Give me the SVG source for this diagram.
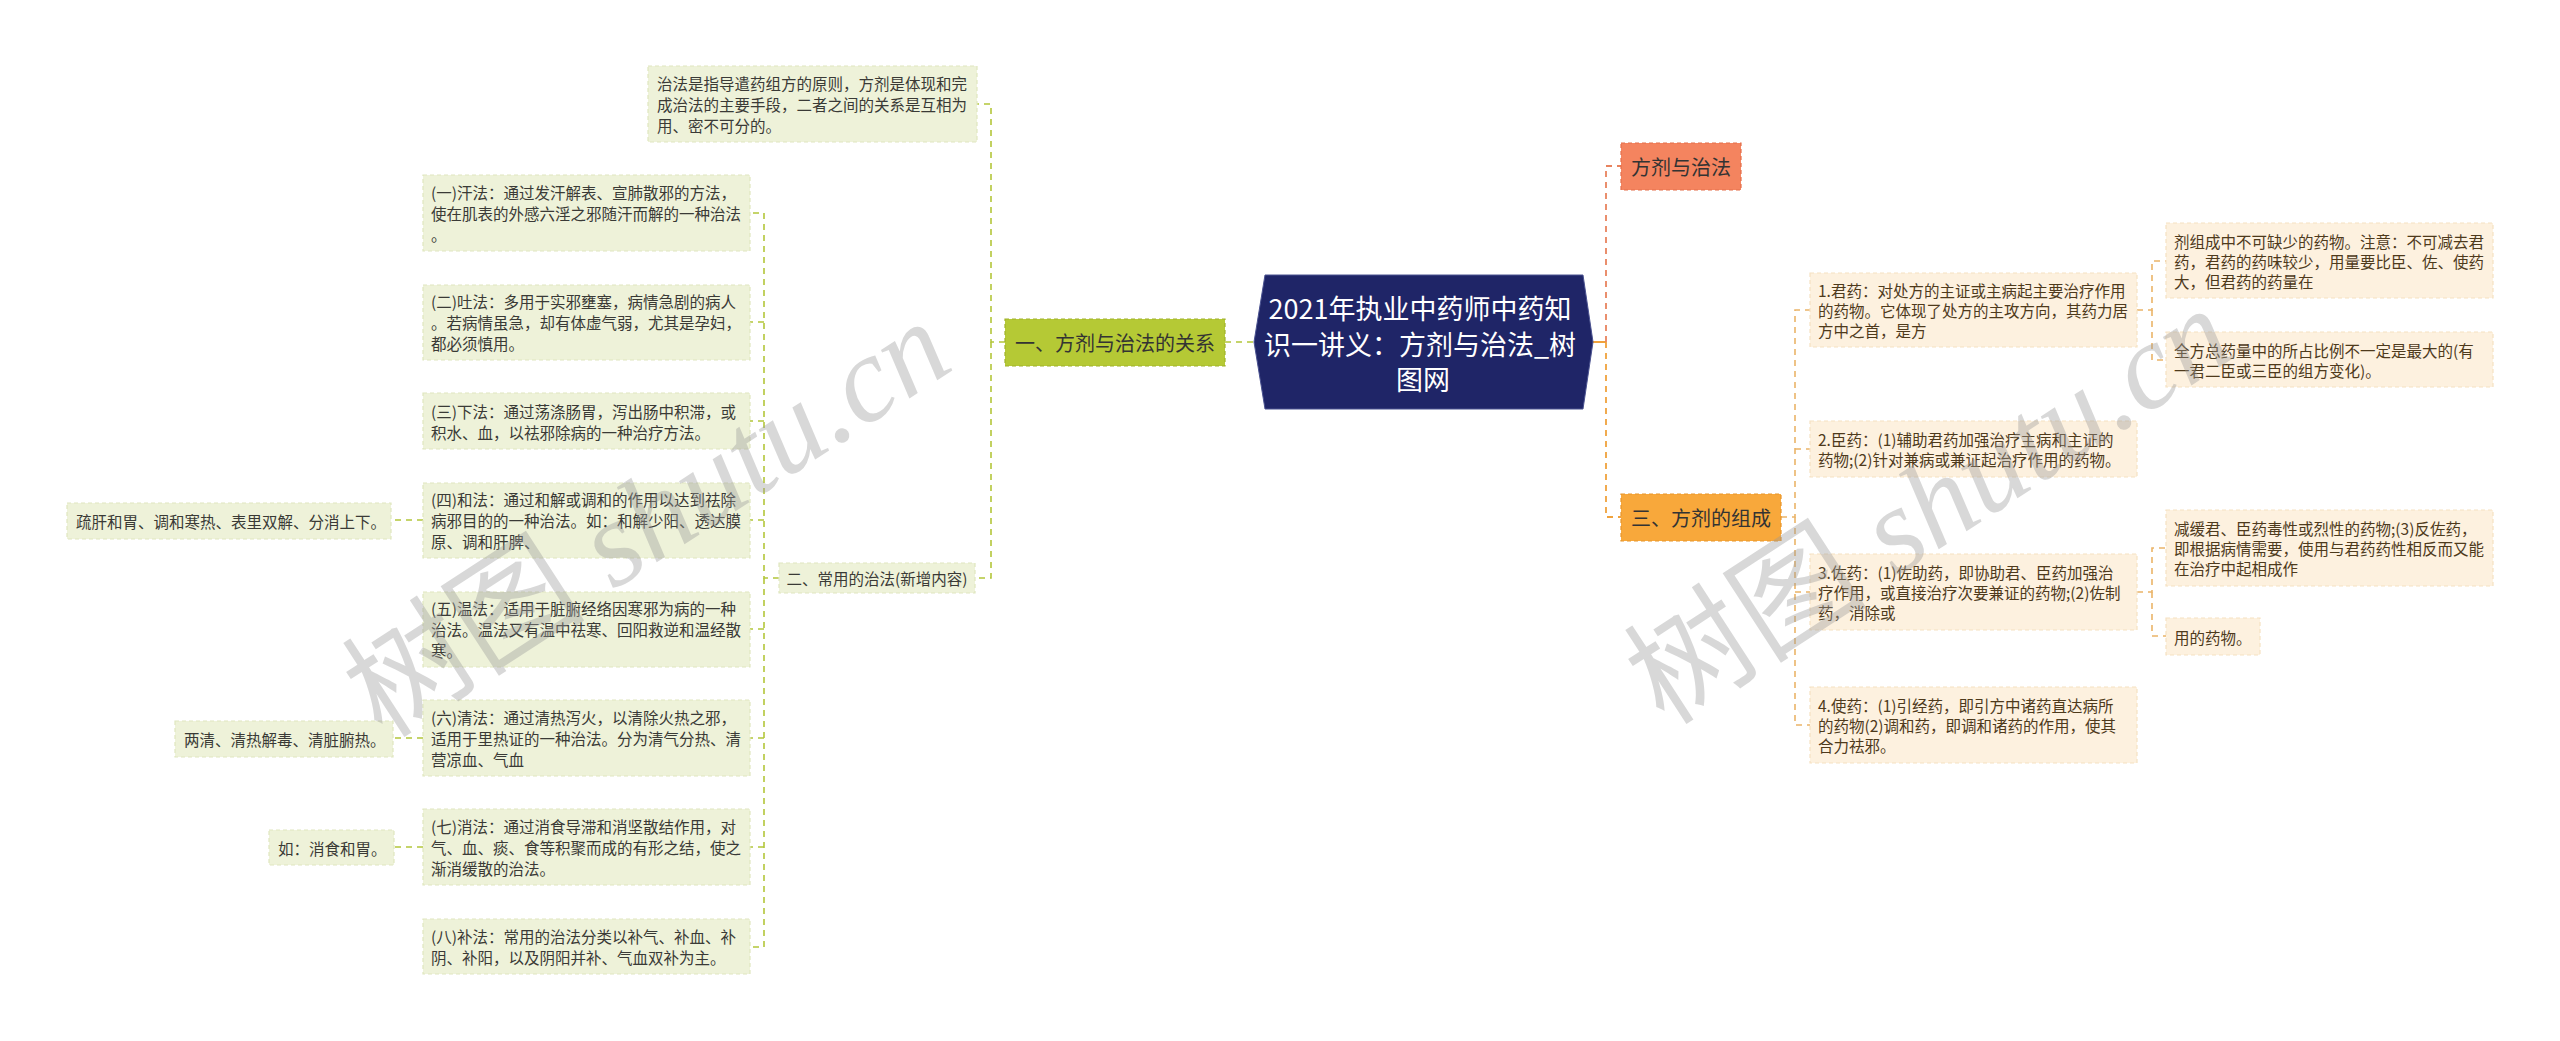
<svg xmlns="http://www.w3.org/2000/svg" width="2560" height="1041" viewBox="0 0 2560 1041">
<style>
text, tspan { dominant-baseline: central; }
.t { font-family: "Noto Sans CJK SC", "Liberation Sans", sans-serif; font-size: 15.5px; }
.lt { fill: #3a3a36; }
.rt { fill: #4e3a1c; }
.gl { fill: #eef2d9; stroke: #dfe6bf; stroke-width: 1.2; stroke-dasharray: 4 3; }
.rl { fill: #fdf1df; stroke: #f5e2c2; stroke-width: 1.2; stroke-dasharray: 4 3; }
.big { font-family: "Noto Sans CJK SC", "Liberation Sans", sans-serif; font-size: 20px; fill: #333; }
.cg { fill: none; stroke: #b3c63a; stroke-width: 1.6; stroke-dasharray: 6 5; }
.co { fill: none; stroke: #eab468; stroke-width: 1.6; stroke-dasharray: 6 5; }
.wm { font-family: "Liberation Serif", "Noto Sans CJK SC", serif; font-size: 122px; fill: #9a9a9a; opacity: 0.38; }
</style>

<g id="connectors">
  <path class="cg" d="M1225,342 H1254" stroke-width="2.5"/>
  <path class="cg" d="M1005,342 H991 V104 H977"/>
  <path class="cg" d="M991,342 V578 H975"/>
  <path class="cg" d="M779,578 H764 V213 H750"/>
  <path class="cg" d="M764,578 V947 H750"/>
  <path class="cg" d="M764,322 H750"/>
  <path class="cg" d="M764,421 H750"/>
  <path class="cg" d="M764,520 H750"/>
  <path class="cg" d="M764,629 H750"/>
  <path class="cg" d="M764,738 H750"/>
  <path class="cg" d="M764,847 H750"/>
  <path class="cg" d="M423,520 H391"/>
  <path class="cg" d="M423,738 H393"/>
  <path class="cg" d="M423,847 H394"/>
  <path d="M1593,342 H1606" fill="none" stroke="#f0a23c" stroke-width="2"/>
  <path d="M1606,342 V166 H1621" fill="none" stroke="#e8835e" stroke-width="1.8" stroke-dasharray="6 5"/>
  <path d="M1606,342 V517 H1621" fill="none" stroke="#f0a23c" stroke-width="1.8" stroke-dasharray="6 5"/>
  <path class="co" d="M1781,517 H1795 V310 H1810"/>
  <path class="co" d="M1795,517 V725 H1810"/>
  <path class="co" d="M1795,449 H1810"/>
  <path class="co" d="M1795,592 H1810"/>
  <path class="co" d="M2137,310 H2152 V261 H2166"/>
  <path class="co" d="M2152,310 V360 H2166"/>
  <path class="co" d="M2137,592 H2152 V548 H2166"/>
  <path class="co" d="M2152,592 V636 H2166"/>
</g>

<g id="root">
  <polygon points="1265,275 1583,275 1593,342 1583,409 1265,409 1254,342" fill="#1f2567" stroke="#4a5290" stroke-width="1"/>
  <text font-family="Noto Sans CJK SC, Liberation Sans, sans-serif" font-size="27" fill="#ffffff" text-anchor="middle">
    <tspan x="1423" y="307">2021年执业中药师中药知</tspan>
    <tspan x="1423" y="343">识一讲义：方剂与治法_树</tspan>
    <tspan x="1423" y="378">图网</tspan>
  </text>
</g>

<g id="n-guanxi">
  <rect x="1005" y="319" width="220" height="47" fill="#b5c935" stroke="#9fb22a" stroke-width="1.2" stroke-dasharray="4 3"/>
  <text class="big" x="1115" y="342" text-anchor="middle">一、方剂与治法的关系</text>
</g>

<g id="n-yuanze">
  <rect class="gl" x="648" y="66" width="329" height="76"/>
  <text class="t lt"><tspan x="657" y="83">治法是指导遣药组方的原则，方剂是体现和完</tspan><tspan x="657" y="104">成治法的主要手段，二者之间的关系是互相为</tspan><tspan x="657" y="125">用、密不可分的。</tspan></text>
</g>

<g id="n-zhifa">
  <rect class="gl" x="779" y="563" width="196" height="30"/>
  <text class="t lt" x="877" y="578" text-anchor="middle">二、常用的治法(新增内容)</text>
</g>

<g id="n-han">
  <rect class="gl" x="423" y="175" width="327" height="76"/>
  <text class="t lt"><tspan x="431" y="192">(一)汗法：通过发汗解表、宣肺散邪的方法，</tspan><tspan x="431" y="213">使在肌表的外感六淫之邪随汗而解的一种治法</tspan><tspan x="431" y="234">。</tspan></text>
</g>

<g id="n-tu">
  <rect class="gl" x="423" y="285" width="327" height="75"/>
  <text class="t lt"><tspan x="431" y="301">(二)吐法：多用于实邪壅塞，病情急剧的病人</tspan><tspan x="431" y="322">。若病情虽急，却有体虚气弱，尤其是孕妇，</tspan><tspan x="431" y="343">都必须慎用。</tspan></text>
</g>

<g id="n-xia">
  <rect class="gl" x="423" y="393" width="327" height="56"/>
  <text class="t lt"><tspan x="431" y="410.5">(三)下法：通过荡涤肠胃，泻出肠中积滞，或</tspan><tspan x="431" y="431.5">积水、血，以祛邪除病的一种治疗方法。</tspan></text>
</g>

<g id="n-he">
  <rect class="gl" x="423" y="483" width="327" height="75"/>
  <text class="t lt"><tspan x="431" y="499">(四)和法：通过和解或调和的作用以达到祛除</tspan><tspan x="431" y="520">病邪目的的一种治法。如：和解少阳、透达膜</tspan><tspan x="431" y="541">原、调和肝脾、</tspan></text>
</g>

<g id="n-he-sub">
  <rect class="gl" x="67" y="503" width="324" height="36"/>
  <text class="t lt" x="76" y="521">疏肝和胃、调和寒热、表里双解、分消上下。</text>
</g>

<g id="n-wen">
  <rect class="gl" x="423" y="592" width="327" height="75"/>
  <text class="t lt"><tspan x="431" y="608">(五)温法：适用于脏腑经络因寒邪为病的一种</tspan><tspan x="431" y="629">治法。温法又有温中祛寒、回阳救逆和温经散</tspan><tspan x="431" y="650">寒。</tspan></text>
</g>

<g id="n-qing">
  <rect class="gl" x="423" y="700" width="327" height="76"/>
  <text class="t lt"><tspan x="431" y="717">(六)清法：通过清热泻火，以清除火热之邪，</tspan><tspan x="431" y="738">适用于里热证的一种治法。分为清气分热、清</tspan><tspan x="431" y="759">营凉血、气血</tspan></text>
</g>

<g id="n-qing-sub">
  <rect class="gl" x="175" y="721" width="218" height="36"/>
  <text class="t lt" x="184" y="739">两清、清热解毒、清脏腑热。</text>
</g>

<g id="n-xiao">
  <rect class="gl" x="423" y="809" width="327" height="76"/>
  <text class="t lt"><tspan x="431" y="826">(七)消法：通过消食导滞和消坚散结作用，对</tspan><tspan x="431" y="847">气、血、痰、食等积聚而成的有形之结，使之</tspan><tspan x="431" y="868">渐消缓散的治法。</tspan></text>
</g>

<g id="n-xiao-sub">
  <rect class="gl" x="269" y="830" width="125" height="35"/>
  <text class="t lt" x="278" y="847.5">如：消食和胃。</text>
</g>

<g id="n-bu">
  <rect class="gl" x="423" y="919" width="327" height="55"/>
  <text class="t lt"><tspan x="431" y="936">(八)补法：常用的治法分类以补气、补血、补</tspan><tspan x="431" y="957">阴、补阳，以及阴阳并补、气血双补为主。</tspan></text>
</g>

<g id="n-fangji">
  <rect x="1621" y="143" width="120" height="47" fill="#f4845f" stroke="#e46e4a" stroke-width="1.2" stroke-dasharray="4 3"/>
  <text class="big" x="1681" y="166.5" text-anchor="middle">方剂与治法</text>
</g>

<g id="n-zucheng">
  <rect x="1621" y="494" width="160" height="47" fill="#f8a83b" stroke="#e8952a" stroke-width="1.2" stroke-dasharray="4 3"/>
  <text class="big" x="1701" y="517.5" text-anchor="middle">三、方剂的组成</text>
</g>

<g id="n-jun">
  <rect class="rl" x="1810" y="273" width="327" height="74"/>
  <text class="t rt"><tspan x="1818" y="290">1.君药：对处方的主证或主病起主要治疗作用</tspan><tspan x="1818" y="310">的药物。它体现了处方的主攻方向，其药力居</tspan><tspan x="1818" y="330">方中之首，是方</tspan></text>
</g>

<g id="n-jun-a">
  <rect class="rl" x="2166" y="223" width="327" height="75"/>
  <text class="t rt"><tspan x="2174" y="240.5">剂组成中不可缺少的药物。注意：不可减去君</tspan><tspan x="2174" y="260.5">药，君药的药味较少，用量要比臣、佐、使药</tspan><tspan x="2174" y="280.5">大，但君药的药量在</tspan></text>
</g>

<g id="n-jun-b">
  <rect class="rl" x="2166" y="332" width="327" height="55"/>
  <text class="t rt"><tspan x="2174" y="350">全方总药量中的所占比例不一定是最大的(有</tspan><tspan x="2174" y="370">一君二臣或三臣的组方变化)。</tspan></text>
</g>

<g id="n-chen">
  <rect class="rl" x="1810" y="421" width="327" height="56"/>
  <text class="t rt"><tspan x="1818" y="439">2.臣药：(1)辅助君药加强治疗主病和主证的</tspan><tspan x="1818" y="459">药物;(2)针对兼病或兼证起治疗作用的药物。</tspan></text>
</g>

<g id="n-zuo">
  <rect class="rl" x="1810" y="554" width="327" height="76"/>
  <text class="t rt"><tspan x="1818" y="572">3.佐药：(1)佐助药，即协助君、臣药加强治</tspan><tspan x="1818" y="592">疗作用，或直接治疗次要兼证的药物;(2)佐制</tspan><tspan x="1818" y="612">药，消除或</tspan></text>
</g>

<g id="n-zuo-a">
  <rect class="rl" x="2166" y="510" width="327" height="76"/>
  <text class="t rt"><tspan x="2174" y="528">减缓君、臣药毒性或烈性的药物;(3)反佐药，</tspan><tspan x="2174" y="548">即根据病情需要，使用与君药药性相反而又能</tspan><tspan x="2174" y="568">在治疗中起相成作</tspan></text>
</g>

<g id="n-zuo-b">
  <rect class="rl" x="2166" y="618" width="94" height="37"/>
  <text class="t rt" x="2174" y="636.5">用的药物。</text>
</g>

<g id="n-shi">
  <rect class="rl" x="1810" y="687" width="327" height="76"/>
  <text class="t rt"><tspan x="1818" y="705">4.使药：(1)引经药，即引方中诸药直达病所</tspan><tspan x="1818" y="725">的药物(2)调和药，即调和诸药的作用，使其</tspan><tspan x="1818" y="745">合力祛邪。</tspan></text>
</g>

<g id="watermark">
  <text class="wm" transform="translate(360,705) rotate(-33)">树图 <tspan font-style="italic">shutu.cn</tspan></text>
  <text class="wm" transform="translate(1642,692) rotate(-33)">树图 <tspan font-style="italic">shutu.cn</tspan></text>
</g>
</svg>
